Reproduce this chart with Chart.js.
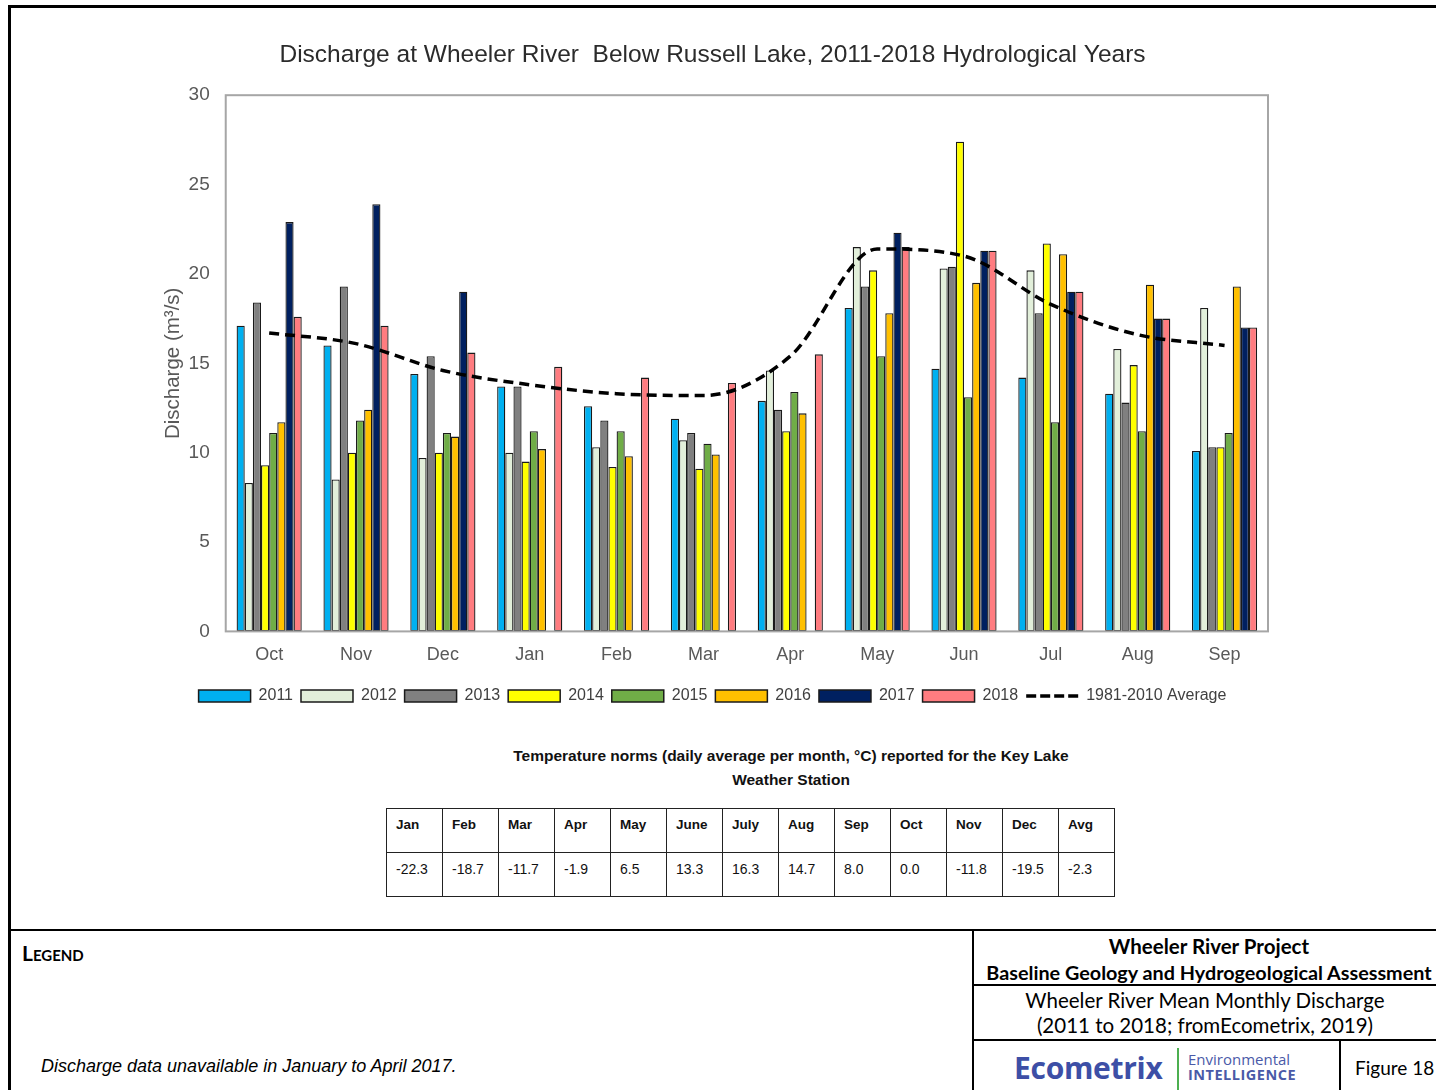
<!DOCTYPE html>
<html>
<head>
<meta charset="utf-8">
<script src="https://cdn.jsdelivr.net/npm/chart.js@4.4.1/dist/chart.umd.min.js"></script>
<style>
  html, body { margin: 0; padding: 0; background: #fff; }
  body { width: 1436px; height: 1090px; position: relative; overflow: hidden; font-family: 'Liberation Sans', Arial, sans-serif; }
  .frame-top { position: absolute; left: 8px; top: 5px; width: 1440px; height: 3px; background: #000; }
  .frame-left { position: absolute; left: 8px; top: 5px; width: 3px; height: 1090px; background: #000; }
  .rule { position: absolute; background: #000; }
  #chartBox { position: absolute; left: 140px; top: 22px; width: 1144px; height: 698px; }
  #caption { position: absolute; left: 470px; top: 744px; width: 642px; text-align: center; font-weight: bold; font-size: 15.5px; line-height: 24px; color: #111; }
  #temps { position: absolute; left: 386px; top: 808px; border-collapse: collapse; }
  #temps td { border: 1px solid #222; width: 56px; height: 44px; padding: 8px 0 0 9px; box-sizing: border-box; vertical-align: top; font-size: 14px; color: #111; }
  #temps tr:first-child td { font-weight: bold; font-size: 13.5px; }
  .cal { font-family: Lato, 'Open Sans', sans-serif; color: #000; }
</style>
</head>
<body>
<div class="frame-top"></div>
<div class="frame-left"></div>

<div id="chartBox"><canvas id="discharge"></canvas></div>

<div id="caption">Temperature norms (daily average per month, °C) reported for the Key Lake<br>Weather Station</div>
<table id="temps"><tr id="tempHead"></tr><tr id="tempVals"></tr></table>

<!-- title block -->
<div class="rule" style="left:8px; top:929px; width:1440px; height:2px;"></div>
<div class="rule" style="left:972px; top:929px; width:2px; height:170px;"></div>
<div class="rule" style="left:972px; top:984px; width:480px; height:2px;"></div>
<div class="rule" style="left:972px; top:1039px; width:480px; height:2px;"></div>
<div class="rule" style="left:1339px; top:1039px; width:2px; height:60px;"></div>

<div class="cal" style="position:absolute; left:22px; top:940px; font-weight:bold; font-size:21px; font-variant:small-caps;">Legend</div>
<div style="position:absolute; left:41px; top:1056px; font-style:italic; font-size:18px; color:#000;">Discharge data unavailable in January to April 2017.</div>

<div class="cal" style="position:absolute; left:974px; top:933px; width:470px; text-align:center; font-weight:bold; font-size:20.5px; line-height:26px; white-space:nowrap;">Wheeler River Project<br><span style="font-size:19.8px;">Baseline Geology and Hydrogeological Assessment</span></div>
<div class="cal" style="position:absolute; left:972px; top:988px; width:466px; text-align:center; font-size:20.5px; line-height:25px; white-space:nowrap;">Wheeler River Mean Monthly Discharge<br>(2011 to 2018; fromEcometrix, 2019)</div>
<div style="position:absolute; left:1014px; top:1049px; font-family:'Open Sans', sans-serif; font-weight:bold; font-size:30px; line-height:38px; color:#3d4fa6; letter-spacing:-0.3px;">Ecometrix</div>
<div style="position:absolute; left:1177px; top:1048px; width:2px; height:42px; background:#4caf50;"></div>
<div style="position:absolute; left:1188px; top:1052px; font-family:'Open Sans', sans-serif; font-size:15px; line-height:15px; color:#4a5aa8;">Environmental<br><b style="font-size:14.5px; letter-spacing:0.5px;">INTELLIGENCE</b></div>
<div class="cal" style="position:absolute; left:1355px; top:1056px; font-size:19px;">Figure 18</div>

<script>
// months of the hydrological year
var months = ['Oct', 'Nov', 'Dec', 'Jan', 'Feb', 'Mar', 'Apr', 'May', 'Jun', 'Jul', 'Aug', 'Sep'];

// mean monthly discharge (m3/s)
var q2011 = [17.1, 16.0, 14.4, 13.7, 12.6, 11.9, 12.9, 18.1, 14.7, 14.2, 13.3, 10.1];
var q2012 = [8.3, 8.5, 9.7, 10.0, 10.3, 10.7, 14.6, 21.5, 20.3, 20.2, 15.8, 18.1];
var q2013 = [18.4, 19.3, 15.4, 13.7, 11.8, 11.1, 12.4, 19.3, 20.4, 17.8, 12.8, 10.3];
var q2014 = [9.3, 10.0, 10.0, 9.5, 9.2, 9.1, 11.2, 20.2, 27.4, 21.7, 14.9, 10.3];
var q2015 = [11.1, 11.8, 11.1, 11.2, 11.2, 10.5, 13.4, 15.4, 13.1, 11.7, 11.2, 11.1];
var q2016 = [11.7, 12.4, 10.9, 10.2, 9.8, 9.9, 12.2, 17.8, 19.5, 21.1, 19.4, 19.3];
var q2017 = [22.9, 23.9, 19.0, null, null, null, null, 22.3, 21.3, 19.0, 17.5, 17.0];
var q2018 = [17.6, 17.1, 15.6, 14.8, 14.2, 13.9, 15.5, 21.5, 21.3, 19.0, 17.5, 17.0];
var avg8110 = [16.7, 16.1, 14.6, 13.8, 13.3, 13.2, 15.4, 21.4, 21.0, 18.3, 16.6, 16.0];

// Key Lake temperature norms
var tempMonths = ['Jan', 'Feb', 'Mar', 'Apr', 'May', 'June', 'July', 'Aug', 'Sep', 'Oct', 'Nov', 'Dec', 'Avg'];
var tempValues = ['-22.3', '-18.7', '-11.7', '-1.9', '6.5', '13.3', '16.3', '14.7', '8.0', '0.0', '-11.8', '-19.5', '-2.3'];

var head = document.getElementById('tempHead');
var vals = document.getElementById('tempVals');
for (var i = 0; i < tempMonths.length; i++) {
  var th = document.createElement('td');
  th.textContent = tempMonths[i];
  head.appendChild(th);
  var tv = document.createElement('td');
  tv.textContent = tempValues[i];
  vals.appendChild(tv);
}

function barSet(label, data, color) {
  return {
    type: 'bar',
    label: label,
    data: data,
    backgroundColor: color,
    borderColor: '#1a1a1a',
    borderWidth: 1.3,
    borderSkipped: false
  };
}

// dashed swatch for the average line in the legend
var dashSwatch = document.createElement('canvas');
dashSwatch.width = 54;
dashSwatch.height = 6;
var dctx = dashSwatch.getContext('2d');
dctx.strokeStyle = '#000';
dctx.lineWidth = 3.5;
dctx.setLineDash([10, 4]);
dctx.beginPath();
dctx.moveTo(1, 3);
dctx.lineTo(54, 3);
dctx.stroke();

// gray frame round the plot area
var plotFrame = {
  id: 'plotFrame',
  afterDraw: function(chart) {
    var a = chart.chartArea;
    var ctx = chart.ctx;
    ctx.save();
    ctx.strokeStyle = '#a6a6a6';
    ctx.lineWidth = 2;
    ctx.strokeRect(a.left, a.top, a.right - a.left, a.bottom - a.top);
    ctx.restore();
  }
};

var font = "'Liberation Sans', Arial, sans-serif";

new Chart(document.getElementById('discharge').getContext('2d'), {
  data: {
    labels: months,
    datasets: [
      barSet('2011', q2011, '#00b0f0'),
      barSet('2012', q2012, '#e2efda'),
      barSet('2013', q2013, '#808080'),
      barSet('2014', q2014, '#ffff00'),
      barSet('2015', q2015, '#70ad47'),
      barSet('2016', q2016, '#ffc000'),
      barSet('2017', q2017, '#002060'),
      barSet('2018', q2018, '#ff7c80'),
      {
        type: 'line',
        label: '1981-2010 Average',
        data: avg8110,
        borderColor: '#000',
        backgroundColor: '#000',
        borderWidth: 3.5,
        borderDash: [10, 6],
        pointRadius: 0,
        cubicInterpolationMode: 'monotone',
        order: -1
      }
    ]
  },
  options: {
    responsive: true,
    maintainAspectRatio: false,
    animation: false,
    datasets: { bar: { categoryPercentage: 0.75, barPercentage: 1.0 } },
    layout: { padding: { left: 17, right: 16, top: 0, bottom: 6 } },
    plugins: {
      tooltip: { enabled: false },
      title: {
        display: true,
        text: 'Discharge at Wheeler River  Below Russell Lake, 2011-2018 Hydrological Years',
        color: '#2b2b2b',
        font: { family: font, size: 24.5, weight: 'normal' },
        padding: { top: 18.4, bottom: 25.4 }
      },
      legend: {
        position: 'bottom',
        labels: {
          color: '#404040',
          font: { family: font, size: 16 },
          usePointStyle: true,
          pointStyleWidth: 52,
          boxHeight: 12,
          padding: 8,
          sort: function(a, b) { return a.datasetIndex - b.datasetIndex; },
          generateLabels: function(chart) {
            var items = Chart.defaults.plugins.legend.labels.generateLabels(chart);
            items.forEach(function(it) {
              if (it.datasetIndex === 8) {
                it.pointStyle = dashSwatch;
              } else {
                it.pointStyle = 'rect';
                it.lineWidth = 1.5;
                it.strokeStyle = '#1a1a1a';
              }
            });
            return items;
          }
        }
      }
    },
    scales: {
      x: {
        grid: { display: false, drawTicks: false },
        border: { display: false },
        ticks: { color: '#595959', font: { family: font, size: 18 }, padding: 13 },
        afterFit: function(scale) { scale.height += 1; }
      },
      y: {
        min: 0,
        max: 30,
        grid: { display: false, drawTicks: false },
        border: { display: false },
        ticks: { stepSize: 5, color: '#595959', font: { family: font, size: 19 }, padding: 16 },
        title: {
          display: true,
          text: 'Discharge (m³/s)',
          color: '#595959',
          font: { family: font, size: 20.5 }
        },
        afterFit: function(scale) { scale.width -= 17; }
      }
    }
  },
  plugins: [plotFrame]
});
</script>
</body>
</html>
